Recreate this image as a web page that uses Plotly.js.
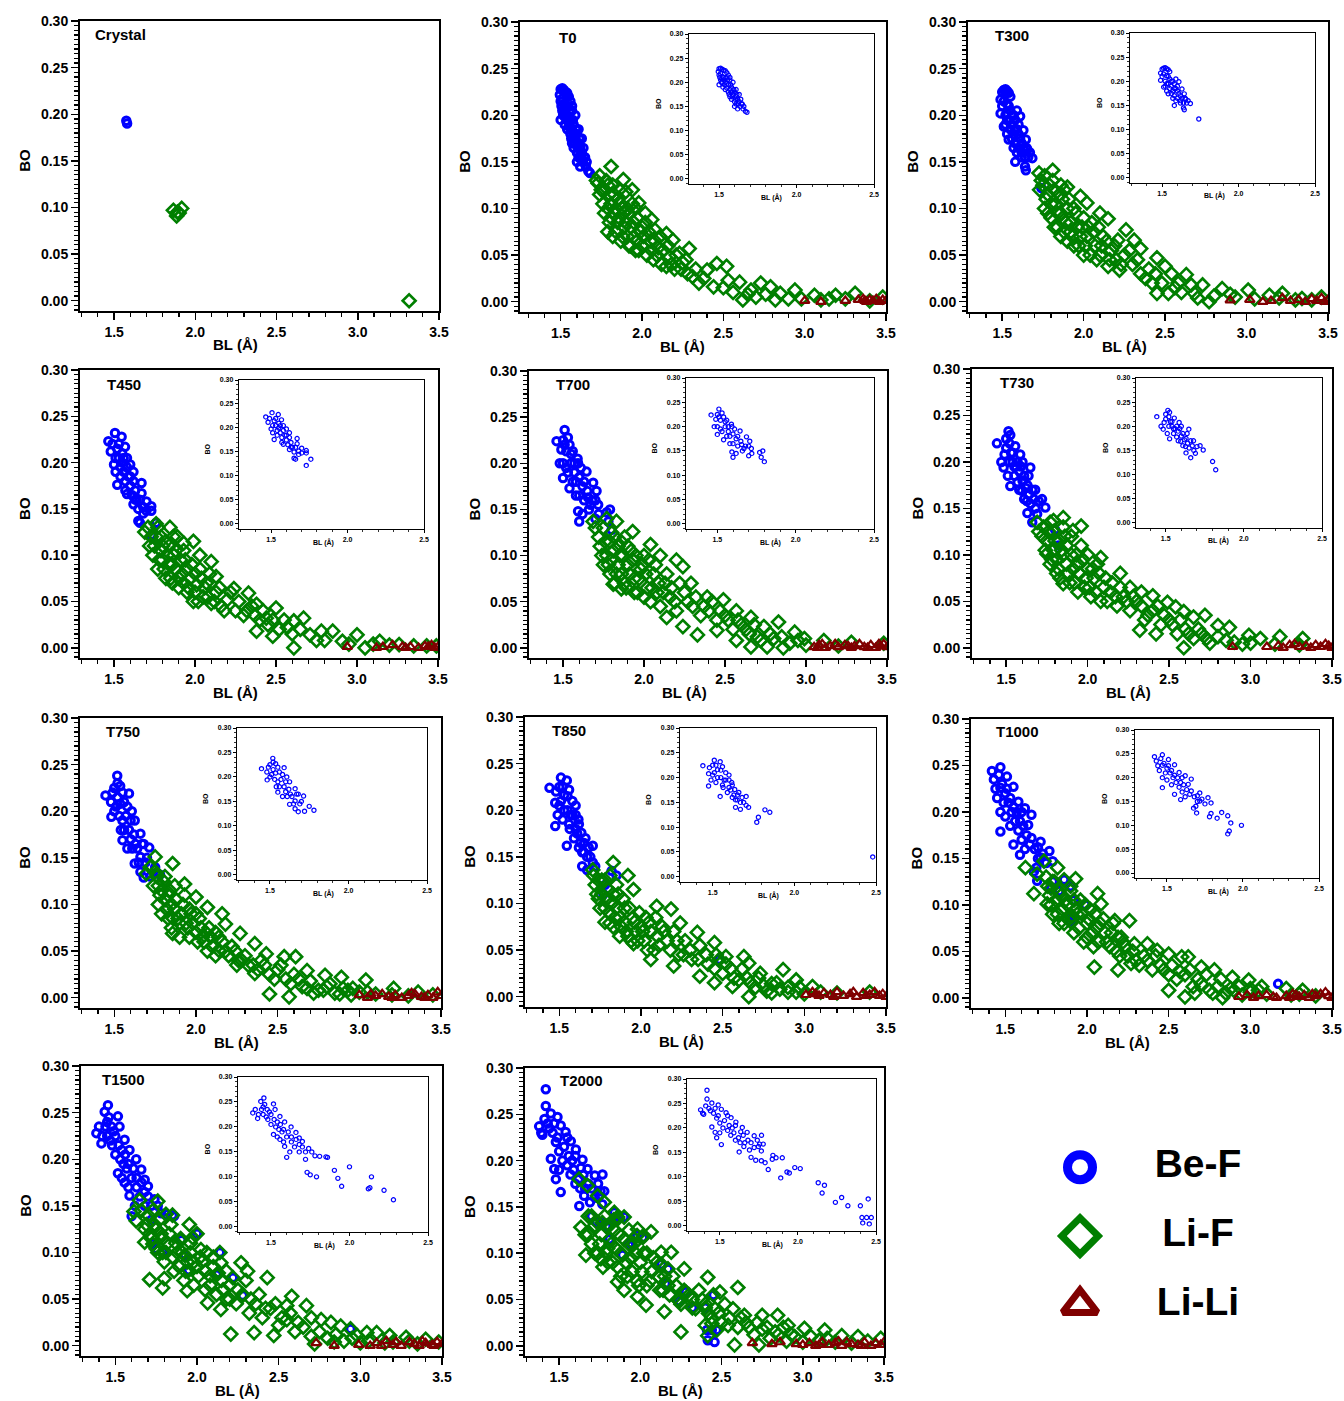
<!DOCTYPE html>
<html>
<head>
<meta charset="utf-8">
<script src="https://cdn.plot.ly/plotly-3.0.1.min.js"></script>
<style>html,body{margin:0;padding:0;background:#fff;}#chart{width:1344px;height:1401px;}</style>
</head>
<body>
<div id="chart"></div>
<script>
// ---------------- DATA (BL in Å, BO) ----------------
const SERIES_NAMES = ['Be-F', 'Li-F', 'Li-Li'];
const PANEL_LABELS = ['Crystal','T0','T300','T450','T700','T730','T750','T850','T1000','T1500','T2000'];

const CRYSTAL_BEF = [[1.575,0.193],[1.58,0.19]];
const CRYSTAL_LIF = [[1.865,0.097],[1.885,0.091],[1.89,0.095],[1.9,0.094],[1.916,0.099],[3.316,0.0]];
const CRYSTAL_LILI = [];

const T0_BEF = [[1.50,0.228],[1.51,0.229],[1.52,0.227],[1.53,0.225],[1.54,0.224],[1.50,0.215],[1.51,0.218],[1.52,0.212],[1.53,0.21],[1.55,0.22],[1.56,0.215],[1.57,0.21],[1.52,0.2],[1.53,0.205],[1.54,0.2],[1.55,0.198],[1.56,0.195],[1.57,0.205],[1.58,0.19],[1.59,0.2],[1.54,0.185],[1.55,0.188],[1.56,0.18],[1.57,0.185],[1.58,0.18],[1.59,0.175],[1.6,0.18],[1.61,0.185],[1.57,0.17],[1.58,0.165],[1.59,0.175],[1.6,0.16],[1.61,0.17],[1.62,0.165],[1.63,0.175],[1.6,0.15],[1.61,0.155],[1.62,0.145],[1.63,0.16],[1.64,0.165],[1.65,0.155],[1.66,0.15],[1.67,0.14],[1.68,0.138],[1.50,0.195],[1.51,0.205],[1.495,0.222],[1.505,0.21],[1.515,0.2],[1.525,0.19],[1.535,0.195],[1.545,0.21],[1.555,0.205],[1.565,0.175],[1.575,0.195],[1.585,0.17],[1.595,0.185],[1.605,0.165],[1.615,0.175],[1.625,0.155],[1.635,0.15],[1.645,0.155],[1.655,0.145]];
const T0_LIF = [[1.81,0.145],[1.73,0.127],[1.885,0.131],[1.94,0.12],[1.98,0.106],[2.02,0.095],[2.06,0.088],[2.08,0.077],[2.15,0.073],[2.19,0.066],[2.29,0.057],[2.23,0.052],[2.15,0.038],[2.31,0.027],[2.4,0.034],[2.46,0.041],[2.52,0.038],[2.44,0.016],[2.53,0.023],[2.6,0.021],[2.62,0.002],[2.67,0.0125],[2.73,0.02],[2.79,0.016],[2.85,0.009],[2.94,0.0125],[3.06,0.007],[3.19,0.007],[3.31,0.009],[3.48,0.005],[1.75,0.12],[1.76,0.105],[1.78,0.13],[1.79,0.1],[1.8,0.115],[1.8,0.085],[1.82,0.125],[1.83,0.095],[1.84,0.075],[1.85,0.11],[1.86,0.09],[1.87,0.065],[1.88,0.1],[1.89,0.08],[1.9,0.118],[1.91,0.07],[1.92,0.095],[1.93,0.06],[1.95,0.085],[1.96,0.1],[1.97,0.065],[1.98,0.055],[2.0,0.08],[2.01,0.07],[2.03,0.05],[2.05,0.065],[2.07,0.045],[2.1,0.058],[2.12,0.04],[2.17,0.048],[2.2,0.035],[2.25,0.042],[2.28,0.03],[2.35,0.02],[2.7,0.005],[2.9,0.003],[3.1,0.002],[3.25,0.003],[3.4,0.001],[1.72,0.13],[1.74,0.115],[1.74,0.135],[1.77,0.12],[1.77,0.095],[1.79,0.125],[1.79,0.075],[1.81,0.105],[1.81,0.09],[1.82,0.07],[1.83,0.115],[1.84,0.1],[1.85,0.085],[1.86,0.12],[1.87,0.105],[1.88,0.07],[1.89,0.095],[1.9,0.085],[1.91,0.1],[1.92,0.06],[1.93,0.08],[1.94,0.105],[1.95,0.07],[1.96,0.055],[1.97,0.09],[1.99,0.075],[2.0,0.06],[2.02,0.085],[2.04,0.075],[2.06,0.055],[2.08,0.065],[2.09,0.05],[2.11,0.07],[2.13,0.055],[2.16,0.06],[2.18,0.04],[2.21,0.05],[2.24,0.035],[2.27,0.045],[2.33,0.035],[2.38,0.025],[2.5,0.015],[2.56,0.01],[2.65,0.008],[2.76,0.008],[2.82,0.002],[2.98,0.003],[3.15,0.003]];
const T0_LILI = [[3.0,0.001],[3.1,0.0],[3.25,0.001],[3.33,0.002],[3.36,0.003],[3.38,0.0],[3.4,0.002],[3.42,0.001],[3.44,0.003],[3.46,0.0],[3.48,0.002],[3.5,0.001],[3.37,0.001]];

const T300_BEF = [[1.51,0.227],[1.52,0.228],[1.53,0.226],[1.54,0.224],[1.55,0.22],[1.49,0.217],[1.5,0.21],[1.49,0.202],[1.51,0.188],[1.54,0.174],[1.52,0.2],[1.53,0.212],[1.54,0.195],[1.55,0.205],[1.56,0.19],[1.57,0.2],[1.58,0.185],[1.59,0.205],[1.61,0.199],[1.6,0.18],[1.56,0.175],[1.57,0.165],[1.58,0.17],[1.59,0.16],[1.6,0.165],[1.62,0.17],[1.63,0.184],[1.645,0.174],[1.655,0.163],[1.685,0.154],[1.645,0.141],[1.58,0.15],[1.62,0.155],[1.64,0.145],[1.66,0.155],[1.53,0.18],[1.55,0.185],[1.74,0.122],[1.5,0.225],[1.51,0.215],[1.52,0.19],[1.53,0.195],[1.54,0.21],[1.56,0.2],[1.57,0.18],[1.58,0.195],[1.59,0.185],[1.6,0.19],[1.61,0.175],[1.62,0.16],[1.63,0.165],[1.64,0.155],[1.65,0.165],[1.67,0.16]];
const T300_LIF = [[1.726,0.138],[1.81,0.141],[1.86,0.125],[1.9,0.123],[1.98,0.113],[2.02,0.106],[2.1,0.095],[2.15,0.089],[2.26,0.077],[2.21,0.066],[2.15,0.038],[2.22,0.034],[2.31,0.066],[2.35,0.057],[2.45,0.047],[2.5,0.038],[2.54,0.03],[2.63,0.029],[2.58,0.02],[2.45,0.009],[2.52,0.009],[2.68,0.009],[2.73,0.018],[2.77,0.0],[2.85,0.014],[2.93,0.005],[3.01,0.0125],[3.14,0.007],[3.22,0.009],[3.34,0.0035],[3.46,0.005],[1.75,0.125],[1.76,0.1],[1.78,0.115],[1.8,0.09],[1.81,0.13],[1.83,0.105],[1.84,0.08],[1.86,0.095],[1.87,0.11],[1.88,0.075],[1.9,0.1],[1.92,0.085],[1.93,0.07],[1.95,0.095],[1.97,0.06],[1.99,0.08],[2.0,0.05],[2.02,0.07],[2.05,0.085],[2.07,0.06],[2.1,0.05],[2.12,0.07],[2.17,0.055],[2.2,0.045],[2.25,0.05],[2.3,0.04],[2.35,0.03],[2.4,0.035],[2.42,0.02],[2.6,0.01],[2.8,0.006],[3.05,0.003],[3.3,0.002],[1.73,0.12],[1.74,0.13],[1.76,0.135],[1.77,0.11],[1.78,0.095],[1.79,0.125],[1.8,0.105],[1.82,0.12],[1.82,0.08],[1.84,0.095],[1.85,0.115],[1.86,0.07],[1.87,0.09],[1.88,0.12],[1.89,0.085],[1.9,0.065],[1.91,0.11],[1.92,0.075],[1.94,0.06],[1.94,0.1],[1.96,0.08],[1.98,0.07],[2.0,0.09],[2.01,0.06],[2.03,0.08],[2.04,0.05],[2.06,0.075],[2.08,0.045],[2.09,0.08],[2.11,0.06],[2.14,0.065],[2.16,0.045],[2.19,0.06],[2.23,0.04],[2.28,0.055],[2.33,0.045],[2.38,0.025],[2.44,0.03],[2.48,0.02],[2.56,0.015],[2.66,0.018],[2.7,0.004],[2.9,0.008],[3.2,0.004],[3.4,0.002]];
const T300_LILI = [[2.9,0.0015],[3.02,0.002],[3.1,0.0],[3.15,0.001],[3.22,0.004],[3.27,0.001],[3.32,0.002],[3.36,0.0],[3.4,0.003],[3.43,0.001],[3.46,0.004],[3.48,0.0],[3.5,0.002]];

const T450_BEF = [[1.506,0.232],[1.465,0.223],[1.547,0.228],[1.568,0.217],[1.6,0.198],[1.62,0.19],[1.67,0.178],[1.67,0.167],[1.7,0.158],[1.73,0.153],[1.73,0.148],[1.65,0.137],[1.66,0.135],[1.62,0.155],[1.58,0.166],[1.52,0.176],[1.5,0.198],[1.48,0.212],[1.52,0.215],[1.53,0.205],[1.55,0.2],[1.56,0.19],[1.54,0.185],[1.57,0.18],[1.59,0.185],[1.6,0.175],[1.61,0.165],[1.63,0.17],[1.64,0.16],[1.65,0.15],[1.68,0.152],[1.76,0.135],[1.73,0.122],[1.55,0.21],[1.58,0.195],[1.49,0.22],[1.51,0.205],[1.51,0.19],[1.53,0.22],[1.54,0.195],[1.56,0.205],[1.57,0.17],[1.58,0.205],[1.6,0.185],[1.62,0.18],[1.63,0.16],[1.66,0.16],[1.68,0.145],[1.7,0.148]];
const T450_LIF = [[1.69,0.125],[1.76,0.134],[1.845,0.13],[1.866,0.12],[1.93,0.113],[1.99,0.115],[2.03,0.1],[2.1,0.093],[2.13,0.077],[2.24,0.064],[2.33,0.059],[2.38,0.047],[2.5,0.043],[2.44,0.032],[2.38,0.018],[2.48,0.0125],[2.61,0.029],[2.67,0.032],[2.61,0.0],[2.71,0.014],[2.78,0.018],[2.85,0.018],[2.91,0.007],[3.0,0.014],[3.05,0.0],[3.14,0.007],[3.26,0.0035],[3.43,0.002],[3.49,0.002],[1.72,0.11],[1.74,0.1],[1.76,0.12],[1.78,0.095],[1.8,0.11],[1.81,0.085],[1.83,0.1],[1.85,0.075],[1.86,0.09],[1.88,0.105],[1.9,0.065],[1.92,0.08],[1.94,0.095],[1.95,0.06],[1.97,0.075],[1.99,0.05],[2.01,0.068],[2.03,0.085],[2.05,0.055],[2.07,0.07],[2.1,0.048],[2.13,0.06],[2.16,0.045],[2.2,0.052],[2.25,0.04],[2.3,0.035],[2.35,0.045],[2.4,0.03],[2.45,0.025],[2.52,0.02],[2.55,0.03],[2.6,0.015],[2.75,0.008],[2.95,0.004],[3.2,0.003],[1.71,0.13],[1.73,0.12],[1.75,0.11],[1.77,0.13],[1.77,0.085],[1.79,0.105],[1.79,0.12],[1.8,0.095],[1.82,0.115],[1.82,0.075],[1.84,0.09],[1.84,0.11],[1.86,0.07],[1.87,0.1],[1.88,0.085],[1.89,0.12],[1.9,0.075],[1.91,0.095],[1.93,0.07],[1.93,0.105],[1.95,0.085],[1.96,0.065],[1.98,0.09],[2.0,0.06],[2.0,0.08],[2.02,0.05],[2.04,0.075],[2.06,0.065],[2.08,0.055],[2.09,0.08],[2.12,0.05],[2.15,0.065],[2.18,0.04],[2.22,0.06],[2.27,0.05],[2.32,0.04],[2.37,0.035],[2.42,0.04],[2.48,0.03],[2.57,0.022],[2.65,0.02],[2.8,0.008],[3.1,0.004],[3.35,0.002]];
const T450_LILI = [[2.94,0.001],[3.12,0.0],[3.16,0.001],[3.22,0.003],[3.28,0.001],[3.3,0.0],[3.33,0.001],[3.38,0.0],[3.42,0.002],[3.44,0.001],[3.46,0.003],[3.48,0.0],[3.5,0.001]];

const T700_BEF = [[1.51,0.236],[1.46,0.224],[1.48,0.2],[1.52,0.213],[1.56,0.213],[1.593,0.2],[1.645,0.191],[1.686,0.179],[1.707,0.17],[1.655,0.163],[1.717,0.155],[1.79,0.15],[1.77,0.147],[1.593,0.148],[1.6,0.137],[1.54,0.173],[1.5,0.184],[1.5,0.225],[1.53,0.228],[1.54,0.22],[1.55,0.2],[1.57,0.19],[1.6,0.185],[1.62,0.175],[1.56,0.18],[1.58,0.165],[1.63,0.16],[1.66,0.15],[1.68,0.16],[1.7,0.14],[1.72,0.145],[1.8,0.128],[1.78,0.137],[1.52,0.195],[1.59,0.205],[1.49,0.215],[1.5,0.2],[1.51,0.22],[1.53,0.19],[1.55,0.21],[1.57,0.2],[1.58,0.18],[1.6,0.165],[1.61,0.195],[1.63,0.18],[1.65,0.17],[1.67,0.155],[1.7,0.16],[1.62,0.145]];
const T700_LIF = [[1.686,0.137],[1.77,0.14],[1.83,0.137],[1.93,0.126],[2.04,0.112],[2.1,0.1],[2.2,0.095],[2.24,0.088],[2.29,0.07],[2.39,0.055],[2.49,0.052],[2.57,0.04],[2.66,0.033],[2.74,0.023],[2.83,0.028],[2.93,0.017],[2.66,0.001],[2.76,0.001],[2.86,0.0],[2.99,0.01],[3.11,0.008],[3.28,0.006],[3.48,0.005],[1.81,0.069],[1.86,0.064],[2.33,0.014],[2.24,0.023],[2.14,0.033],[2.45,0.019],[2.57,0.008],[1.72,0.12],[1.74,0.1],[1.76,0.115],[1.78,0.09],[1.8,0.125],[1.81,0.105],[1.83,0.08],[1.85,0.1],[1.86,0.115],[1.88,0.07],[1.9,0.09],[1.92,0.105],[1.94,0.075],[1.96,0.06],[1.98,0.085],[2.0,0.1],[2.02,0.065],[2.04,0.05],[2.06,0.08],[2.08,0.06],[2.1,0.045],[2.13,0.07],[2.16,0.055],[2.2,0.04],[2.25,0.06],[2.3,0.045],[2.35,0.035],[2.4,0.04],[2.45,0.03],[2.5,0.035],[2.55,0.02],[2.6,0.025],[2.65,0.015],[2.7,0.012],[2.8,0.01],[2.9,0.005],[1.7,0.13],[1.73,0.11],[1.75,0.13],[1.75,0.09],[1.77,0.1],[1.79,0.115],[1.79,0.08],[1.8,0.095],[1.82,0.12],[1.82,0.07],[1.84,0.09],[1.84,0.11],[1.86,0.08],[1.87,0.1],[1.88,0.12],[1.89,0.065],[1.9,0.11],[1.91,0.08],[1.93,0.095],[1.94,0.06],[1.95,0.1],[1.97,0.075],[1.99,0.09],[2.0,0.055],[2.01,0.08],[2.03,0.095],[2.05,0.065],[2.07,0.09],[2.09,0.07],[2.12,0.06],[2.14,0.08],[2.17,0.065],[2.19,0.05],[2.22,0.07],[2.27,0.05],[2.32,0.055],[2.37,0.045],[2.42,0.05],[2.47,0.04],[2.52,0.03],[2.58,0.03],[2.63,0.02],[2.68,0.025],[2.72,0.008],[2.78,0.015],[2.85,0.012],[2.95,0.008],[3.0,0.003],[3.2,0.002]];
const T700_LILI = [[3.05,0.001],[3.08,0.003],[3.12,0.0],[3.15,0.002],[3.2,0.001],[3.24,0.003],[3.28,0.0],[3.3,0.002],[3.33,0.004],[3.36,0.001],[3.4,0.003],[3.43,0.0],[3.46,0.002],[3.48,0.004],[3.5,0.001],[3.1,0.004],[3.07,0.0],[3.18,0.004],[3.26,0.002],[3.38,0.0],[3.45,0.004]];

const T730_BEF = [[1.443,0.22],[1.514,0.233],[1.525,0.229],[1.555,0.217],[1.586,0.208],[1.648,0.194],[1.637,0.185],[1.678,0.17],[1.72,0.16],[1.74,0.151],[1.69,0.144],[1.66,0.135],[1.627,0.158],[1.596,0.169],[1.525,0.174],[1.484,0.194],[1.49,0.208],[1.5,0.215],[1.53,0.21],[1.54,0.2],[1.56,0.195],[1.58,0.19],[1.55,0.185],[1.57,0.178],[1.6,0.18],[1.62,0.172],[1.64,0.165],[1.61,0.16],[1.65,0.155],[1.68,0.15],[1.7,0.158],[1.8,0.127],[1.82,0.11],[1.52,0.2],[1.6,0.2],[1.47,0.2],[1.5,0.225],[1.51,0.185],[1.52,0.22],[1.54,0.21],[1.55,0.195],[1.57,0.2],[1.58,0.17],[1.59,0.195],[1.61,0.185],[1.63,0.175],[1.66,0.17],[1.67,0.16],[1.63,0.145]];
const T730_LIF = [[1.69,0.135],[1.79,0.137],[1.85,0.14],[1.96,0.131],[1.91,0.126],[2.08,0.097],[2.2,0.08],[2.26,0.065],[2.33,0.06],[2.4,0.056],[2.49,0.049],[2.54,0.044],[2.59,0.039],[2.65,0.033],[2.72,0.035],[2.8,0.024],[2.87,0.022],[2.99,0.0135],[3.06,0.01],[3.18,0.012],[3.32,0.01],[2.59,0.0],[2.32,0.019],[2.42,0.015],[1.85,0.069],[1.81,0.08],[1.75,0.101],[1.72,0.12],[1.74,0.105],[1.76,0.125],[1.78,0.095],[1.8,0.115],[1.82,0.085],[1.84,0.105],[1.86,0.12],[1.88,0.08],[1.9,0.1],[1.92,0.07],[1.94,0.09],[1.96,0.11],[1.98,0.065],[2.0,0.085],[2.02,0.055],[2.04,0.075],[2.06,0.09],[2.1,0.065],[2.12,0.05],[2.15,0.07],[2.18,0.045],[2.22,0.055],[2.26,0.04],[2.3,0.05],[2.35,0.03],[2.4,0.04],[2.45,0.025],[2.5,0.03],[2.55,0.015],[2.6,0.02],[2.65,0.01],[2.7,0.015],[2.75,0.005],[2.85,0.008],[2.95,0.004],[3.3,0.003],[1.7,0.125],[1.73,0.13],[1.75,0.115],[1.77,0.135],[1.77,0.09],[1.79,0.105],[1.79,0.125],[1.81,0.095],[1.83,0.115],[1.83,0.075],[1.85,0.1],[1.85,0.13],[1.87,0.09],[1.87,0.11],[1.89,0.07],[1.9,0.12],[1.91,0.085],[1.93,0.1],[1.94,0.06],[1.95,0.08],[1.97,0.095],[1.99,0.075],[2.0,0.1],[2.01,0.065],[2.03,0.085],[2.05,0.06],[2.07,0.08],[2.08,0.05],[2.11,0.075],[2.14,0.06],[2.17,0.055],[2.2,0.065],[2.24,0.05],[2.28,0.055],[2.33,0.045],[2.37,0.035],[2.43,0.045],[2.47,0.035],[2.52,0.025],[2.57,0.03],[2.62,0.015],[2.68,0.02],[2.73,0.01],[2.8,0.012],[2.9,0.006],[3.0,0.005],[3.15,0.004]];
const T730_LILI = [[2.89,0.001],[3.1,0.001],[3.17,0.002],[3.2,0.0],[3.24,0.003],[3.27,0.004],[3.3,0.001],[3.34,0.002],[3.37,0.0],[3.4,0.003],[3.43,0.001],[3.46,0.004],[3.48,0.002],[3.5,0.0]];

const T750_BEF = [[1.518,0.238],[1.446,0.217],[1.482,0.194],[1.536,0.227],[1.59,0.219],[1.607,0.2],[1.625,0.19],[1.66,0.176],[1.68,0.165],[1.714,0.161],[1.66,0.151],[1.625,0.144],[1.68,0.129],[1.55,0.169],[1.536,0.208],[1.5,0.225],[1.52,0.215],[1.56,0.21],[1.57,0.195],[1.55,0.19],[1.59,0.18],[1.6,0.17],[1.58,0.16],[1.64,0.16],[1.65,0.145],[1.7,0.15],[1.72,0.13],[1.75,0.14],[1.78,0.132],[1.5,0.2],[1.54,0.18],[1.48,0.21],[1.49,0.22],[1.51,0.205],[1.52,0.23],[1.53,0.195],[1.55,0.22],[1.56,0.18],[1.58,0.205],[1.6,0.19],[1.61,0.16],[1.62,0.175],[1.63,0.165],[1.67,0.165],[1.69,0.145],[1.66,0.135]];
const T750_LIF = [[1.75,0.151],[1.696,0.133],[1.857,0.144],[1.93,0.122],[2.0,0.108],[2.07,0.097],[2.16,0.09],[2.18,0.079],[2.27,0.069],[2.36,0.058],[2.43,0.047],[2.54,0.044],[2.61,0.044],[2.68,0.029],[2.79,0.024],[2.89,0.022],[3.04,0.019],[2.96,0.01],[2.45,0.004],[2.57,0.001],[3.21,0.01],[3.36,0.006],[1.857,0.069],[2.04,0.065],[2.14,0.051],[2.25,0.035],[2.36,0.026],[1.76,0.13],[1.78,0.11],[1.8,0.125],[1.82,0.095],[1.84,0.115],[1.86,0.085],[1.88,0.105],[1.9,0.08],[1.92,0.1],[1.95,0.075],[1.97,0.09],[2.0,0.07],[2.02,0.085],[2.05,0.06],[2.08,0.075],[2.1,0.055],[2.14,0.065],[2.18,0.05],[2.22,0.055],[2.26,0.04],[2.3,0.045],[2.35,0.035],[2.4,0.04],[2.45,0.025],[2.5,0.03],[2.55,0.02],[2.6,0.025],[2.65,0.012],[2.7,0.018],[2.75,0.008],[2.8,0.012],[2.85,0.005],[2.9,0.01],[2.95,0.003],[3.0,0.006],[3.1,0.004],[3.2,0.003],[3.3,0.002],[3.45,0.003],[1.72,0.14],[1.74,0.12],[1.75,0.135],[1.77,0.12],[1.77,0.1],[1.79,0.115],[1.79,0.09],[1.81,0.105],[1.81,0.13],[1.83,0.085],[1.83,0.11],[1.85,0.1],[1.85,0.075],[1.87,0.095],[1.87,0.12],[1.89,0.085],[1.9,0.065],[1.91,0.09],[1.93,0.11],[1.94,0.08],[1.96,0.065],[1.96,0.095],[1.98,0.08],[2.0,0.09],[2.01,0.06],[2.03,0.075],[2.06,0.07],[2.07,0.05],[2.09,0.065],[2.12,0.07],[2.12,0.045],[2.16,0.06],[2.2,0.045],[2.24,0.05],[2.28,0.04],[2.32,0.035],[2.38,0.03],[2.42,0.035],[2.48,0.02],[2.52,0.035],[2.58,0.015],[2.63,0.02],[2.68,0.01],[2.72,0.005],[2.78,0.008],[2.82,0.015],[2.88,0.004],[2.93,0.008],[3.05,0.006]];
const T750_LILI = [[3.0,0.003],[3.05,0.0],[3.1,0.002],[3.14,0.004],[3.18,0.001],[3.22,0.003],[3.26,0.0],[3.3,0.002],[3.34,0.004],[3.38,0.001],[3.42,0.003],[3.45,0.0],[3.48,0.006],[3.5,0.002],[3.07,0.004],[3.2,0.0],[3.32,0.005],[3.4,0.0]];

const T850_BEF = [[1.44,0.224],[1.51,0.235],[1.546,0.232],[1.475,0.208],[1.475,0.183],[1.6,0.205],[1.617,0.19],[1.635,0.176],[1.652,0.165],[1.705,0.162],[1.67,0.15],[1.705,0.144],[1.67,0.136],[1.546,0.162],[1.564,0.18],[1.53,0.216],[1.5,0.225],[1.56,0.222],[1.58,0.21],[1.55,0.2],[1.57,0.195],[1.6,0.18],[1.59,0.17],[1.62,0.16],[1.64,0.155],[1.68,0.16],[1.72,0.14],[1.78,0.12],[1.77,0.11],[1.82,0.135],[1.85,0.13],[2.48,0.04],[1.52,0.19],[1.5,0.205],[1.48,0.22],[1.49,0.195],[1.51,0.21],[1.52,0.225],[1.53,0.2],[1.55,0.215],[1.56,0.185],[1.58,0.195],[1.6,0.195],[1.61,0.175],[1.62,0.185],[1.63,0.165],[1.65,0.155],[1.66,0.17],[1.69,0.15],[1.64,0.14]];
const T850_LIF = [[1.705,0.136],[1.83,0.144],[1.92,0.13],[1.954,0.115],[2.096,0.097],[2.184,0.094],[2.24,0.079],[2.345,0.069],[2.45,0.058],[2.52,0.043],[2.63,0.043],[2.66,0.036],[2.73,0.025],[2.87,0.029],[2.95,0.018],[2.56,0.011],[2.66,0.0],[2.8,0.004],[2.36,0.022],[2.45,0.015],[1.81,0.079],[1.954,0.057],[2.06,0.04],[2.2,0.033],[3.05,0.011],[1.72,0.12],[1.74,0.105],[1.76,0.125],[1.78,0.095],[1.8,0.115],[1.82,0.1],[1.84,0.085],[1.86,0.11],[1.88,0.075],[1.9,0.095],[1.92,0.065],[1.95,0.085],[1.97,0.07],[2.0,0.075],[2.02,0.06],[2.05,0.08],[2.08,0.05],[2.1,0.065],[2.14,0.07],[2.18,0.05],[2.22,0.06],[2.26,0.045],[2.3,0.05],[2.35,0.04],[2.4,0.045],[2.45,0.03],[2.5,0.025],[2.55,0.03],[2.6,0.018],[2.65,0.02],[2.7,0.01],[2.75,0.012],[2.8,0.014],[2.85,0.008],[2.9,0.01],[2.95,0.005],[3.0,0.003],[3.2,0.004],[3.4,0.005],[1.71,0.13],[1.73,0.11],[1.74,0.125],[1.75,0.095],[1.76,0.11],[1.78,0.125],[1.78,0.08],[1.79,0.105],[1.81,0.09],[1.81,0.13],[1.83,0.11],[1.83,0.075],[1.85,0.095],[1.85,0.12],[1.87,0.085],[1.87,0.065],[1.89,0.105],[1.9,0.08],[1.91,0.07],[1.93,0.095],[1.94,0.06],[1.96,0.08],[1.98,0.06],[1.99,0.09],[2.01,0.07],[2.03,0.085],[2.04,0.05],[2.06,0.07],[2.09,0.085],[2.11,0.055],[2.13,0.075],[2.16,0.06],[2.2,0.07],[2.23,0.045],[2.27,0.06],[2.31,0.04],[2.36,0.055],[2.41,0.035],[2.46,0.045],[2.48,0.04],[2.52,0.035],[2.57,0.02],[2.62,0.03],[2.67,0.015],[2.72,0.02],[2.77,0.006],[2.83,0.015],[2.9,0.005],[2.97,0.01],[3.1,0.005]];
const T850_LILI = [[3.01,0.002],[3.05,0.005],[3.09,0.001],[3.12,0.004],[3.16,0.002],[3.2,0.005],[3.24,0.001],[3.28,0.003],[3.32,0.0],[3.36,0.004],[3.4,0.002],[3.43,0.005],[3.46,0.001],[3.48,0.003],[3.5,0.0],[3.07,0.003],[3.18,0.0],[3.3,0.005],[3.38,0.001]];

const T1000_BEF = [[1.418,0.244],[1.47,0.248],[1.51,0.238],[1.47,0.226],[1.45,0.215],[1.47,0.2],[1.47,0.179],[1.55,0.227],[1.58,0.211],[1.62,0.204],[1.66,0.197],[1.64,0.186],[1.66,0.172],[1.716,0.168],[1.77,0.158],[1.79,0.147],[1.716,0.151],[1.675,0.136],[1.695,0.126],[1.55,0.165],[1.59,0.154],[1.5,0.22],[1.52,0.21],[1.54,0.2],[1.56,0.19],[1.58,0.18],[1.6,0.17],[1.62,0.16],[1.5,0.195],[1.53,0.185],[1.7,0.162],[1.75,0.145],[1.78,0.118],[1.79,0.125],[1.83,0.115],[1.86,0.127],[1.9,0.12],[1.9,0.082],[1.91,0.088],[1.92,0.105],[1.99,0.1],[3.17,0.015],[1.43,0.235],[1.44,0.225],[1.46,0.24],[1.48,0.23],[1.49,0.21],[1.51,0.225],[1.53,0.215],[1.55,0.205],[1.57,0.2],[1.59,0.19],[1.61,0.185],[1.63,0.175],[1.65,0.165],[1.68,0.16],[1.7,0.15],[1.73,0.155],[1.69,0.14],[1.6,0.2]];
const T1000_LIF = [[1.623,0.14],[1.675,0.112],[1.757,0.101],[1.695,0.133],[1.737,0.147],[1.82,0.14],[1.93,0.128],[2.065,0.112],[2.086,0.101],[2.17,0.083],[2.26,0.083],[2.21,0.065],[2.29,0.058],[2.37,0.058],[2.43,0.051],[2.5,0.047],[2.58,0.044],[2.62,0.044],[2.7,0.033],[2.78,0.03],[2.89,0.022],[2.99,0.019],[3.07,0.012],[3.22,0.01],[3.32,0.008],[2.045,0.033],[2.19,0.03],[2.27,0.037],[2.5,0.008],[2.6,0.001],[2.66,0.005],[2.83,0.0],[1.76,0.12],[1.78,0.1],[1.8,0.125],[1.82,0.09],[1.84,0.11],[1.86,0.08],[1.88,0.1],[1.9,0.115],[1.92,0.07],[1.94,0.09],[1.96,0.105],[1.98,0.06],[2.0,0.08],[2.02,0.095],[2.04,0.055],[2.06,0.075],[2.1,0.085],[2.12,0.06],[2.15,0.07],[2.18,0.05],[2.22,0.06],[2.25,0.045],[2.3,0.04],[2.35,0.045],[2.4,0.03],[2.45,0.035],[2.5,0.025],[2.55,0.02],[2.6,0.025],[2.65,0.012],[2.7,0.015],[2.75,0.008],[2.8,0.012],[2.85,0.005],[2.9,0.008],[2.95,0.003],[3.0,0.006],[3.1,0.004],[3.25,0.003],[3.4,0.002],[1.75,0.13],[1.77,0.11],[1.78,0.118],[1.79,0.125],[1.79,0.09],[1.81,0.105],[1.83,0.115],[1.83,0.08],[1.85,0.095],[1.86,0.127],[1.87,0.105],[1.89,0.085],[1.9,0.12],[1.9,0.082],[1.91,0.088],[1.92,0.105],[1.93,0.095],[1.95,0.075],[1.97,0.09],[1.99,0.1],[2.0,0.065],[2.01,0.085],[2.03,0.07],[2.05,0.09],[2.07,0.06],[2.08,0.08],[2.11,0.07],[2.14,0.055],[2.16,0.08],[2.19,0.065],[2.2,0.045],[2.24,0.055],[2.28,0.05],[2.32,0.035],[2.37,0.04],[2.42,0.045],[2.47,0.03],[2.52,0.035],[2.57,0.028],[2.63,0.03],[2.68,0.02],[2.73,0.025],[2.77,0.005],[2.82,0.02],[2.88,0.01],[2.93,0.012],[3.0,0.01],[3.05,0.008],[3.3,0.004]];
const T1000_LILI = [[2.93,0.001],[2.98,0.003],[3.02,0.0],[3.05,0.002],[3.1,0.003],[3.14,0.001],[3.16,0.0],[3.22,0.002],[3.26,0.004],[3.3,0.001],[3.33,0.003],[3.36,0.0],[3.4,0.002],[3.43,0.004],[3.46,0.006],[3.48,0.002],[3.5,0.0],[3.24,0.0],[3.28,0.003],[3.38,0.004]];

const T1500_BEF = [[1.455,0.258],[1.435,0.251],[1.384,0.228],[1.415,0.217],[1.476,0.235],[1.516,0.246],[1.526,0.235],[1.557,0.221],[1.587,0.21],[1.628,0.2],[1.659,0.189],[1.68,0.178],[1.7,0.171],[1.516,0.185],[1.557,0.175],[1.587,0.161],[1.62,0.15],[1.6,0.139],[1.74,0.157],[1.76,0.15],[1.78,0.142],[1.86,0.139],[2.0,0.12],[2.14,0.1],[2.94,0.018],[1.45,0.225],[1.48,0.215],[1.5,0.205],[1.53,0.2],[1.55,0.195],[1.57,0.19],[1.6,0.18],[1.63,0.17],[1.65,0.16],[1.68,0.15],[1.45,0.24],[1.49,0.23],[1.904,0.113],[1.926,0.097],[1.95,0.081],[2.12,0.076],[2.13,0.078],[2.22,0.073],[2.28,0.054],[1.85,0.14],[1.81,0.141],[1.79,0.1],[1.75,0.104],[1.73,0.109],[1.72,0.135],[1.4,0.235],[1.42,0.225],[1.44,0.235],[1.46,0.245],[1.47,0.22],[1.5,0.225],[1.52,0.215],[1.54,0.21],[1.56,0.205],[1.58,0.195],[1.61,0.19],[1.63,0.18],[1.66,0.175],[1.68,0.165],[1.7,0.16],[1.72,0.15],[1.54,0.18],[1.58,0.17]];
const T1500_LIF = [[1.648,0.156],[1.76,0.155],[1.614,0.144],[1.628,0.134],[1.68,0.111],[1.71,0.071],[1.79,0.062],[1.8,0.072],[1.953,0.13],[1.974,0.116],[2.024,0.103],[2.146,0.089],[2.27,0.089],[2.31,0.08],[2.43,0.073],[2.207,0.0125],[2.35,0.014],[2.47,0.011],[2.55,0.043],[2.58,0.053],[2.67,0.043],[2.76,0.028],[2.82,0.025],[2.88,0.021],[2.98,0.011],[3.04,0.014],[3.1,0.014],[3.18,0.011],[3.28,0.009],[3.4,0.007],[3.48,0.004],[2.72,0.002],[2.84,0.004],[1.94,0.059],[2.065,0.046],[2.146,0.039],[1.68,0.125],[1.7,0.14],[1.72,0.115],[1.74,0.13],[1.76,0.1],[1.78,0.12],[1.8,0.09],[1.82,0.11],[1.84,0.13],[1.86,0.08],[1.88,0.1],[1.9,0.115],[1.92,0.07],[1.94,0.09],[1.96,0.1],[1.98,0.065],[2.0,0.085],[2.02,0.095],[2.05,0.06],[2.08,0.075],[2.1,0.085],[2.12,0.055],[2.15,0.07],[2.18,0.05],[2.2,0.065],[2.24,0.045],[2.28,0.055],[2.32,0.035],[2.36,0.045],[2.4,0.03],[2.45,0.04],[2.5,0.022],[2.55,0.028],[2.6,0.015],[2.65,0.02],[2.7,0.01],[2.8,0.008],[2.9,0.005],[3.0,0.003],[3.2,0.004],[3.35,0.002],[1.66,0.145],[1.69,0.13],[1.71,0.12],[1.73,0.109],[1.73,0.145],[1.75,0.104],[1.75,0.125],[1.77,0.135],[1.79,0.1],[1.79,0.115],[1.81,0.141],[1.81,0.1],[1.83,0.12],[1.85,0.14],[1.85,0.095],[1.87,0.11],[1.89,0.085],[1.9,0.113],[1.91,0.1],[1.926,0.097],[1.93,0.08],[1.95,0.081],[1.96,0.11],[1.98,0.09],[2.0,0.12],[2.01,0.075],[2.03,0.09],[2.05,0.08],[2.06,0.1],[2.08,0.065],[2.1,0.095],[2.12,0.076],[2.13,0.078],[2.14,0.1],[2.16,0.06],[2.18,0.08],[2.2,0.05],[2.22,0.073],[2.25,0.06],[2.28,0.054],[2.3,0.07],[2.33,0.05],[2.38,0.055],[2.42,0.04],[2.48,0.045],[2.52,0.03],[2.57,0.035],[2.62,0.025],[2.7,0.03],[2.75,0.015],[2.85,0.012],[2.94,0.018],[2.95,0.008],[3.05,0.005],[3.15,0.003],[3.3,0.005]];
const T1500_LILI = [[2.73,0.003],[2.84,0.0],[2.99,0.001],[3.06,0.0],[3.1,0.003],[3.16,0.005],[3.2,0.001],[3.25,0.0],[3.3,0.004],[3.33,0.002],[3.36,0.0],[3.4,0.003],[3.44,0.001],[3.47,0.004],[3.5,0.002],[3.13,0.0],[3.22,0.004],[3.38,0.005],[3.45,0.0]];

const T2000_BEF = [[1.418,0.277],[1.418,0.259],[1.377,0.237],[1.397,0.228],[1.449,0.251],[1.49,0.247],[1.51,0.238],[1.54,0.231],[1.572,0.221],[1.603,0.212],[1.644,0.201],[1.634,0.192],[1.675,0.191],[1.72,0.184],[1.767,0.185],[1.778,0.167],[1.747,0.162],[1.654,0.162],[1.624,0.151],[1.51,0.166],[1.449,0.202],[1.47,0.191],[1.9,0.139],[1.84,0.144],[2.17,0.083],[2.415,0.006],[2.457,0.004],[1.43,0.24],[1.46,0.23],[1.48,0.22],[1.5,0.21],[1.52,0.2],[1.55,0.195],[1.57,0.185],[1.6,0.175],[1.58,0.2],[1.62,0.18],[1.66,0.17],[1.69,0.155],[1.81,0.115],[1.836,0.136],[1.86,0.139],[1.89,0.098],[1.93,0.11],[1.945,0.108],[1.98,0.119],[2.015,0.117],[2.13,0.088],[2.155,0.067],[2.24,0.048],[2.28,0.058],[2.32,0.041],[2.4,0.041],[2.41,0.017],[2.44,0.017],[2.45,0.055],[2.47,0.017],[1.755,0.167],[1.7,0.14],[1.73,0.134],[1.766,0.133],[1.79,0.129],[1.766,0.153],[1.39,0.23],[1.41,0.245],[1.44,0.235],[1.47,0.24],[1.49,0.225],[1.5,0.19],[1.53,0.215],[1.55,0.225],[1.56,0.205],[1.59,0.19],[1.6,0.205],[1.63,0.17],[1.65,0.185],[1.68,0.175],[1.7,0.17],[1.72,0.16],[1.74,0.175],[1.48,0.18]];
const T2000_LIF = [[1.623,0.18],[1.675,0.173],[1.737,0.162],[1.778,0.155],[1.634,0.128],[1.665,0.098],[1.757,0.094],[1.798,0.105],[1.86,0.137],[1.983,0.126],[2.02,0.119],[2.066,0.123],[2.128,0.101],[2.19,0.101],[2.27,0.083],[2.415,0.074],[2.6,0.063],[2.49,0.058],[2.25,0.015],[2.415,0.011],[2.58,0.001],[2.54,0.022],[2.64,0.033],[2.75,0.033],[2.845,0.033],[2.91,0.022],[3.01,0.019],[3.135,0.017],[3.24,0.011],[3.34,0.01],[3.48,0.008],[1.86,0.069],[1.9,0.06],[1.983,0.053],[2.035,0.044],[2.148,0.037],[2.73,0.001],[1.66,0.12],[1.68,0.14],[1.7,0.11],[1.72,0.13],[1.74,0.1],[1.76,0.12],[1.78,0.14],[1.8,0.09],[1.82,0.11],[1.84,0.125],[1.86,0.085],[1.88,0.1],[1.9,0.115],[1.92,0.075],[1.94,0.095],[1.96,0.11],[1.98,0.07],[2.0,0.09],[2.02,0.1],[2.04,0.065],[2.07,0.08],[2.1,0.09],[2.12,0.06],[2.15,0.075],[2.18,0.055],[2.22,0.065],[2.25,0.045],[2.3,0.055],[2.34,0.04],[2.38,0.05],[2.42,0.035],[2.46,0.04],[2.5,0.025],[2.55,0.03],[2.6,0.02],[2.65,0.025],[2.7,0.012],[2.75,0.018],[2.8,0.008],[2.85,0.012],[2.9,0.005],[2.95,0.01],[3.0,0.004],[3.1,0.006],[3.2,0.004],[3.3,0.003],[3.4,0.005],[1.7,0.14],[1.73,0.134],[1.766,0.133],[1.79,0.129],[1.81,0.115],[1.836,0.136],[1.84,0.144],[1.86,0.139],[1.89,0.098],[1.9,0.139],[1.93,0.11],[1.945,0.108],[1.98,0.119],[2.015,0.117],[2.13,0.088],[2.155,0.067],[2.17,0.083],[2.24,0.048],[2.28,0.058],[2.32,0.041],[2.4,0.041],[2.4,0.022],[2.44,0.024],[2.47,0.017],[2.45,0.055],[1.68,0.12],[1.72,0.1],[1.75,0.11],[1.77,0.085],[1.79,0.1],[1.81,0.13],[1.83,0.09],[1.85,0.105],[1.87,0.12],[1.88,0.075],[1.91,0.09],[1.93,0.125],[1.95,0.08],[1.97,0.1],[1.99,0.065],[2.01,0.08],[2.04,0.1],[2.06,0.07],[2.08,0.095],[2.11,0.075],[2.14,0.06],[2.17,0.065],[2.2,0.075],[2.23,0.05],[2.27,0.06],[2.32,0.05],[2.36,0.06],[2.4,0.045],[2.44,0.03],[2.48,0.035],[2.52,0.045],[2.57,0.04],[2.62,0.03],[2.67,0.02],[2.72,0.025],[2.78,0.02],[2.83,0.015],[2.88,0.02],[2.93,0.012],[3.05,0.01],[3.15,0.008]];
const T2000_LILI = [[2.69,0.003],[2.81,0.002],[2.86,0.004],[2.96,0.002],[3.0,0.001],[3.04,0.003],[3.08,0.0],[3.12,0.004],[3.16,0.001],[3.2,0.003],[3.24,0.0],[3.27,0.004],[3.3,0.002],[3.34,0.001],[3.38,0.004],[3.42,0.0],[3.45,0.003],[3.48,0.001],[3.5,0.004],[3.1,0.001],[3.22,0.005],[3.36,0.0]];

const MAIN_XTICKS = [1.5, 2.0, 2.5, 3.0, 3.5];
const MAIN_YTICKS = [0.00, 0.05, 0.10, 0.15, 0.20, 0.25, 0.30];
const INSET_XTICKS = [1.5, 2.0, 2.5];

// ---------------- LAYOUT CONFIG (pixel boxes: left, top, right, bottom) ----------------
const PANELS = [
  {data:[CRYSTAL_BEF, CRYSTAL_LIF, CRYSTAL_LILI], main:[80,21,439,311], xmin:1.29, inset:null, lab:[93,34]},
  {data:[T0_BEF, T0_LIF, T0_LILI], main:[520,22,886,312], xmin:1.25, inset:[689,34,874,184], ixmin:1.306, lab:[557,37]},
  {data:[T300_BEF, T300_LIF, T300_LILI], main:[968,22,1328,312], xmin:1.29, inset:[1130,33,1315,183], ixmin:1.29, lab:[993,36]},
  {data:[T450_BEF, T450_LIF, T450_LILI], main:[80,370,438,658], xmin:1.29, inset:[239,380,424,529], ixmin:1.29, lab:[105,384]},
  {data:[T700_BEF, T700_LIF, T700_LILI], main:[529,371,887,658], xmin:1.29, inset:[686,378,874,529], ixmin:1.30, lab:[554,384]},
  {data:[T730_BEF, T730_LIF, T730_LILI], main:[972,369,1332,658], xmin:1.29, inset:[1136,378,1322,528], ixmin:1.31, lab:[998,382]},
  {data:[T750_BEF, T750_LIF, T750_LILI], main:[80,718,441,1008], xmin:1.29, inset:[237,728,427,880], ixmin:1.29, lab:[104,732]},
  {data:[T850_BEF, T850_LIF, T850_LILI], main:[525,717,886,1007], xmin:1.29, inset:[680,728,876,882], ixmin:1.30, lab:[550,730]},
  {data:[T1000_BEF, T1000_LIF, T1000_LILI], main:[971,719,1332,1008], xmin:1.29, inset:[1135,730,1319,878], ixmin:1.29, lab:[994,731]},
  {data:[T1500_BEF, T1500_LIF, T1500_LILI], main:[81,1066,442,1356], xmin:1.29, inset:[238,1077,428,1232], ixmin:1.29, lab:[100,1079]},
  {data:[T2000_BEF, T2000_LIF, T2000_LILI], main:[525,1068,884,1356], xmin:1.29, inset:[687,1079,876,1231], ixmin:1.29, lab:[558,1080]}
];

const W = 1344, H = 1401;
const FONT = 'Liberation Sans, Arial, Helvetica, sans-serif';
const px = v => v / W;
const py = v => 1 - v / H;

const STYLES = [
  {symbol:'circle-open', color:'#0000FF', size:7.5, lw:3},
  {symbol:'diamond-open', color:'#007F00', size:10, lw:2.6},
  {symbol:'triangle-up-open', color:'#800000', size:8.5, lw:2.2}
];

const traces = [];
const layout = {
  width: W, height: H, autosize: false,
  margin: {l:0, r:0, t:0, b:0, pad:0},
  paper_bgcolor: '#ffffff', plot_bgcolor: 'rgba(0,0,0,0)',
  showlegend: false, annotations: [],
  font: {family: FONT, color: '#000'}
};

let axCount = 0;
function addAxes(box, xr, yr, small, xticks) {
  axCount++;
  const suf = axCount === 1 ? '' : String(axCount);
  const fs = small ? 7 : 14;
  const common = {
    showline: true, linecolor: '#000', linewidth: small ? 1.2 : 2, mirror: true,
    ticks: 'outside', tickcolor: '#000', tickwidth: small ? 1 : 1.5, ticklen: small ? 3 : 7,
    showgrid: false, zeroline: false, fixedrange: true,
    tickfont: {family: FONT, size: fs, color: '#000', weight: 'bold'}
  };
  layout['xaxis' + suf] = Object.assign({}, common, {
    domain: [px(box[0]), px(box[2])], range: xr, anchor: 'y' + suf,
    tickmode: 'array', tickvals: xticks, ticktext: xticks.map(v => v.toFixed(1)),
    minor: {dtick: 0.1, tick0: 0, ticks: 'outside', ticklen: small ? 2 : 4, tickcolor: '#000', tickwidth: small ? 0.8 : 1.2, showgrid: false}
  });
  layout['yaxis' + suf] = Object.assign({}, common, {
    domain: [py(box[3]), py(box[1])], range: yr, anchor: 'x' + suf,
    tickmode: 'array', tickvals: MAIN_YTICKS, ticktext: MAIN_YTICKS.map(v => v.toFixed(2)),
    minor: {dtick: small ? 0.01 : 0.005, tick0: 0, ticks: 'outside', ticklen: small ? 2 : 4, tickcolor: '#000', tickwidth: small ? 0.8 : 1.2, showgrid: false}
  });
  return {x: 'x' + suf, y: 'y' + suf};
}

function ann(o) { layout.annotations.push(Object.assign({showarrow: false}, o)); }

PANELS.forEach((p, i) => {
  const b = p.main;
  const ax = addAxes(b, [p.xmin, 3.5], [-0.011, 0.30], false, MAIN_XTICKS);
  p.data.forEach((pts, s) => {
    const st = STYLES[s];
    traces.push({
      type: 'scatter', mode: 'markers', name: SERIES_NAMES[s],
      x: pts.map(d => d[0]), y: pts.map(d => d[1]),
      xaxis: ax.x, yaxis: ax.y, hoverinfo: 'skip',
      marker: {symbol: st.symbol, size: st.size, color: st.color, line: {color: st.color, width: st.lw}}
    });
  });
  ann({xref: 'paper', yref: 'paper', x: px(p.lab[0]), y: py(p.lab[1]), xanchor: 'left', yanchor: 'middle',
       text: PANEL_LABELS[i], font: {family: FONT, size: 15, color: '#000', weight: 'bold'}});
  ann({xref: ax.x, yref: 'paper', x: 2.25, y: py(b[3] + 34), xanchor: 'center', yanchor: 'middle',
       text: 'BL (Å)', font: {family: FONT, size: 15, color: '#000', weight: 'bold'}});
  ann({xref: 'paper', yref: ax.y, x: px(b[0] - 55), y: 0.15, xanchor: 'center', yanchor: 'middle', textangle: -90,
       text: 'BO', font: {family: FONT, size: 15, color: '#000', weight: 'bold'}});

  if (p.inset) {
    const ib = p.inset;
    const iax = addAxes(ib, [p.ixmin, 2.5], [-0.0105, 0.30], true, INSET_XTICKS);
    const pts = p.data[0];
    traces.push({
      type: 'scatter', mode: 'markers', name: SERIES_NAMES[0],
      x: pts.map(d => d[0]), y: pts.map(d => d[1]),
      xaxis: iax.x, yaxis: iax.y, hoverinfo: 'skip',
      marker: {symbol: 'circle-open', size: 4.2, color: '#0000FF', line: {color: '#0000FF', width: 1.2}}
    });
    ann({xref: iax.x, yref: 'paper', x: 1.84, y: py(ib[3] + 13), xanchor: 'center', yanchor: 'middle',
         text: 'BL (Å)', font: {family: FONT, size: 7, color: '#000', weight: 'bold'}});
    ann({xref: 'paper', yref: iax.y, x: px(ib[0] - 31), y: 0.155, xanchor: 'center', yanchor: 'middle', textangle: -90,
         text: 'BO', font: {family: FONT, size: 7, color: '#000', weight: 'bold'}});
  }
});

// ---------------- Legend (own hidden axes) ----------------
axCount++;
const ls = String(axCount);
layout['xaxis' + ls] = {domain: [px(1040), px(1320)], type: 'category', categoryorder: 'array', categoryarray: ['sym', 'txt'],
  range: [-0.339, 2.034], visible: false, fixedrange: true, anchor: 'y' + ls};
layout['yaxis' + ls] = {domain: [py(1340), py(1130)], type: 'category', categoryorder: 'array', categoryarray: ['Li-Li', 'Li-F', 'Be-F'],
  range: [-0.51, 2.54], visible: false, fixedrange: true, anchor: 'x' + ls};
const LEG_MARK = [
  {symbol: 'circle-open', size: 25, lw: 9},
  {symbol: 'diamond-open', size: 28, lw: 7},
  {symbol: 'triangle-up-open', size: 30, lw: 7}
];
SERIES_NAMES.forEach((nm, s) => {
  traces.push({
    type: 'scatter', mode: 'markers', x: ['sym'], y: [nm], xaxis: 'x' + ls, yaxis: 'y' + ls, hoverinfo: 'skip', cliponaxis: false,
    marker: {symbol: LEG_MARK[s].symbol, size: LEG_MARK[s].size, color: STYLES[s].color, line: {color: STYLES[s].color, width: LEG_MARK[s].lw}}
  });
});
traces.push({
  type: 'scatter', mode: 'text', x: SERIES_NAMES.map(() => 'txt'), y: SERIES_NAMES, text: SERIES_NAMES,
  textposition: 'middle center', xaxis: 'x' + ls, yaxis: 'y' + ls, hoverinfo: 'skip', cliponaxis: false,
  textfont: {family: FONT, size: 39, color: '#000', weight: 'bold'}
});

Plotly.newPlot('chart', traces, layout, {displayModeBar: false, staticPlot: true});
</script>
</body>
</html>
